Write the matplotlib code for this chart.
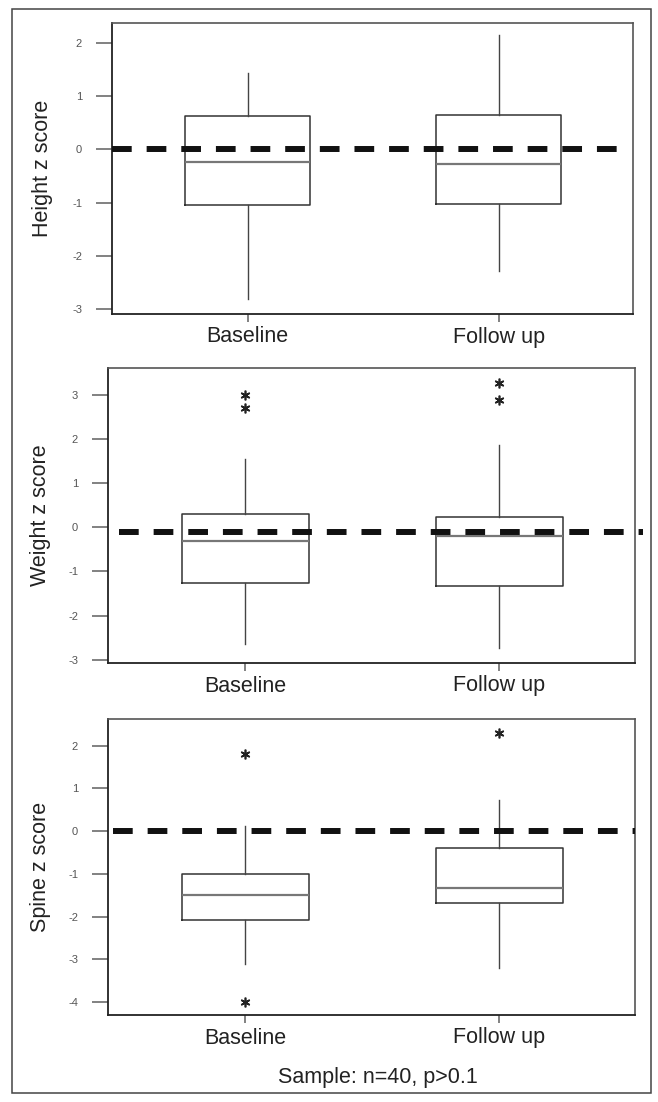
import matplotlib
matplotlib.use("Agg")
import matplotlib.pyplot as plt
from matplotlib.patches import Rectangle

plt.rcParams['font.family'] = ['Liberation Sans', 'DejaVu Sans']

# data
groups = ["Baseline", "Follow up"]

height_whislo = [-2.81, -2.29]
height_q1 = [-1.04, -1.02]
height_med = [-0.24, -0.27]
height_q3 = [0.62, 0.645]
height_whishi = [1.43, 2.15]
height_fliers = [[], []]
height_ref = 0.0
height_ticks = [-3, -2, -1, 0, 1, 2]

weight_whislo = [-2.64, -2.74]
weight_q1 = [-1.27, -1.32]
weight_med = [-0.31, -0.19]
weight_q3 = [0.31, 0.24]
weight_whishi = [1.55, 1.855]
weight_fliers = [[2.70, 3.00], [2.88, 3.27]]
weight_ref = -0.1
weight_ticks = [-3, -2, -1, 0, 1, 2, 3]

spine_whislo = [-3.11, -3.19]
spine_q1 = [-2.08, -1.67]
spine_med = [-1.49, -1.33]
spine_q3 = [-1.0, -0.39]
spine_whishi = [0.12, 0.72]
spine_fliers = [[1.81, -3.99], [2.30]]
spine_ref = 0.0
spine_ticks = [-4, -3, -2, -1, 0, 1, 2]

footnote = "Sample: n=40, p>0.1"

W, H = 658, 1102


def make_stats(whislo, q1, med, q3, whishi, fliers):
    return [dict(label=g, whislo=a, q1=b, med=c, q3=d, whishi=e, fliers=f)
            for g, a, b, c, d, e, f in zip(groups, whislo, q1, med, q3, whishi, fliers)]


def px_axes(fig, left, top, right, bottom):
    return fig.add_axes([left / W, 1 - bottom / H, (right - left) / W, (bottom - top) / H])


def draw_panel(ax, stats, ref, ticks, ylim, ylabel, ref_span, label_x):
    ax.bxp(stats, positions=[1, 2], widths=0.5, showcaps=False,
           boxprops=dict(color="#333333", linewidth=1.1),
           whiskerprops=dict(color="#444444", linewidth=1.0),
           medianprops=dict(color="#777777", linewidth=1.6),
           flierprops=dict(marker=(6, 2, 0), markersize=7, markeredgewidth=1.2,
                           markeredgecolor="#222222", linestyle="none"))
    # dashed reference line
    ax.axhline(ref, xmin=ref_span[0], xmax=ref_span[1], color="#111111",
               linewidth=4.3, linestyle=(0, (3.3, 2.5)), clip_on=False, zorder=5)
    ax.set_xlim(0.46, 2.535)
    ax.set_ylim(*ylim)
    ax.set_yticks(ticks)
    ax.set_yticklabels([str(t) for t in ticks])
    ax.set_xticks([1, 2])
    ax.set_xticklabels(groups)
    ax.tick_params(axis="y", direction="out", length=11.5, width=1.3, color="#777777",
                   labelsize=8, labelcolor="#555555", pad=10)
    ax.tick_params(axis="x", direction="out", length=6, width=1.3, color="#777777",
                   labelsize=15.5, labelcolor="#222222", pad=3)
    for side in ["left", "bottom"]:
        ax.spines[side].set_color("#222222")
        ax.spines[side].set_linewidth(1.3)
    for side in ["top", "right"]:
        ax.spines[side].set_color("#555555")
        ax.spines[side].set_linewidth(1.2)
    ax.set_ylabel(ylabel, fontsize=15.5, color="#222222")
    ax.yaxis.set_label_coords(label_x, 0.5)


fig = plt.figure(figsize=(W / 100, H / 100), dpi=100)

fig.patches.append(Rectangle((12 / W, 1 - 1093 / H), (651 - 12) / W, (1093 - 9) / H,
                             transform=fig.transFigure, fill=False,
                             edgecolor="#444444", linewidth=1.1))

ax1 = px_axes(fig, 112, 23, 633, 314)
draw_panel(ax1, make_stats(height_whislo, height_q1, height_med, height_q3, height_whishi, height_fliers),
           height_ref, height_ticks, (-3.09, 2.37), "Height z score", (0.0, 0.98), -0.113)

ax2 = px_axes(fig, 108, 368, 635, 663)
draw_panel(ax2, make_stats(weight_whislo, weight_q1, weight_med, weight_q3, weight_whishi, weight_fliers),
           weight_ref, weight_ticks, (-3.07, 3.6), "Weight z score", (0.02, 1.015), -0.108)

ax3 = px_axes(fig, 108, 719, 635, 1015)
draw_panel(ax3, make_stats(spine_whislo, spine_q1, spine_med, spine_q3, spine_whishi, spine_fliers),
           spine_ref, spine_ticks, (-4.3, 2.62), "Spine z score", (0.01, 1.0), -0.108)

fig.text(378 / W, 1 - 1077 / H, footnote, ha="center", va="center",
         fontsize=15.5, color="#222222")

fig.savefig("out.png", dpi=100)
